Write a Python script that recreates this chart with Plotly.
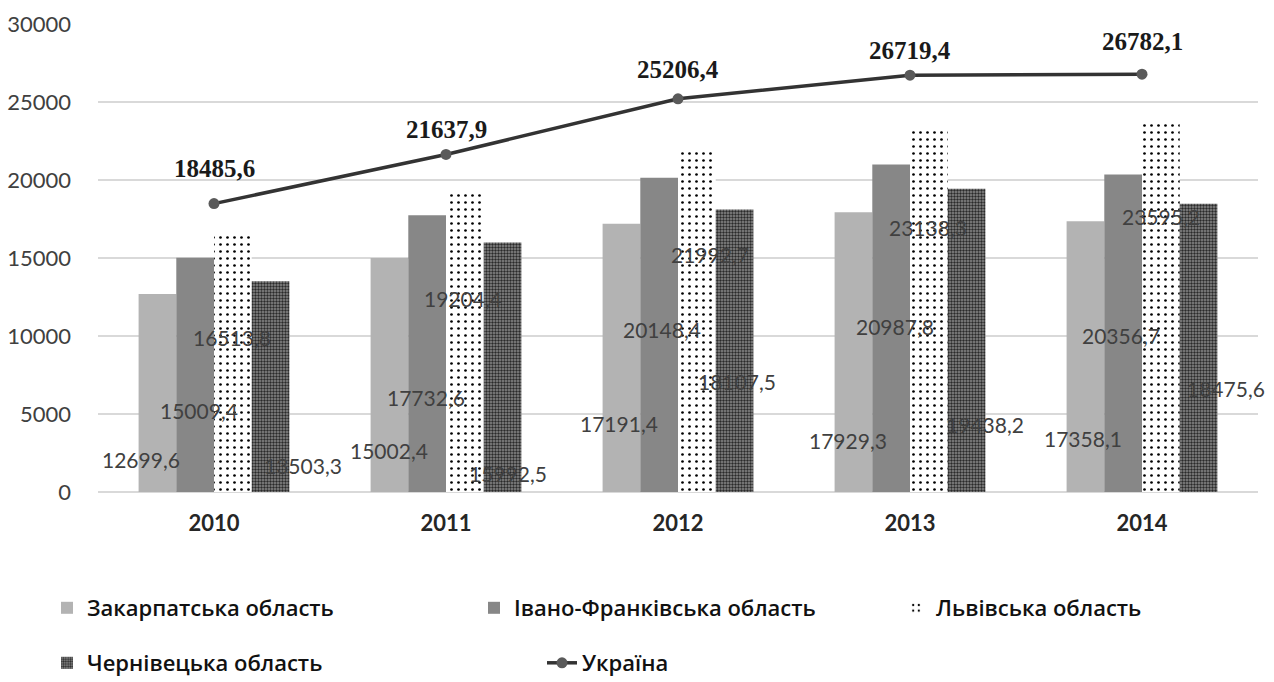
import plotly.graph_objects as go

years = ["2010", "2011", "2012", "2013", "2014"]
zakarpattia = [12699.6, 15002.4, 17191.4, 17929.3, 17358.1]
ivano = [15009.4, 17732.6, 20148.4, 20987.8, 20356.7]
lviv = [16513.8, 19204.4, 21992.7, 23138.3, 23595.2]
chernivtsi = [13503.3, 15992.5, 18107.5, 19438.2, 18475.6]
ukraine = [18485.6, 21637.9, 25206.4, 26719.4, 26782.1]

names = ["Закарпатська область", "Івано-Франківська область", "Львівська область",
         "Чернівецька область", "Україна"]

# label placement (as in the original chart, labels are scattered inside the bars)
label_dx = [[-73, -15, 18, 89], [-57, -20, 17, 62], [-59, -16, 32, 59],
            [-62, -15, 18, 75], [-59, -21, 19, 84]]
label_y = [[2115, 5256, 9936, 1730], [2692, 6090, 12435, 1218], [4360, 10449, 15256, 7115],
           [3333, 10640, 16987, 4359], [3461, 10064, 17692, 6666]]
line_label_shift = [35, 25, 29, 25, 33]

x = list(range(len(years)))
SANS = "Lato, 'Open Sans', sans-serif"
LEGEND_FONT = "'Open Sans', Lato, sans-serif"

def fmt(v):
    return f"{v:.1f}".replace(".", ",")

fig = go.Figure()
fig.add_trace(go.Bar(x=x, y=zakarpattia, name=names[0], marker=dict(color="#b3b3b3", line=dict(width=0)),
                     legend="legend"))
fig.add_trace(go.Bar(x=x, y=ivano, name=names[1], marker=dict(color="#878787", line=dict(width=0)),
                     legend="legend2"))
fig.add_trace(go.Bar(x=x, y=lviv, name=names[2],
                     marker=dict(color="white", line=dict(width=0),
                                 pattern=dict(shape=".", fgcolor="#000000", bgcolor="#ffffff",
                                              size=7, solidity=0.12, fillmode="replace")),
                     legend="legend3"))
fig.add_trace(go.Bar(x=x, y=chernivtsi, name=names[3],
                     marker=dict(color="#777777", line=dict(width=0),
                                 pattern=dict(shape=".", fgcolor="#2a2a2a", bgcolor="#8c8c8c",
                                              size=3, solidity=0.5, fillmode="replace")),
                     legend="legend4"))
fig.add_trace(go.Scatter(x=x, y=ukraine, name=names[4], mode="lines+markers",
                         line=dict(color="#333333", width=3.5),
                         marker=dict(color="#5a5a5a", size=11),
                         legend="legend5"))

series = [zakarpattia, ivano, lviv, chernivtsi]
annotations = []
for i in range(len(years)):
    for s in range(4):
        annotations.append(dict(x=x[i], y=label_y[i][s], xref="x", yref="y", xshift=label_dx[i][s],
                                text=fmt(series[s][i]), showarrow=False,
                                font=dict(family=SANS, size=21, color="#404040")))
    annotations.append(dict(x=x[i], y=ukraine[i], xref="x", yref="y", yshift=line_label_shift[i],
                            text="<b>" + fmt(ukraine[i]) + "</b>", showarrow=False,
                            font=dict(family="'Liberation Serif', 'Times New Roman', serif",
                                      size=25, color="#1a1a1a")))

def leg(xpx, ypx):
    return dict(orientation="h", x=(xpx - 98) / 1160, xanchor="left",
                y=(492 - ypx) / 468, yanchor="middle", traceorder="normal",
                font=dict(family=LEGEND_FONT, size=22, color="#111111", weight=600),
                bgcolor="rgba(0,0,0,0)")

fig.update_layout(
    width=1274, height=682,
    showlegend=True,
    margin=dict(l=98, r=16, t=24, b=190, autoexpand=False),
    paper_bgcolor="white", plot_bgcolor="white",
    barmode="group", bargap=0.35, bargroupgap=0,
    annotations=annotations,
    font=dict(family=SANS, size=22, color="#404040"),
    xaxis=dict(range=[-0.5, 4.5], tickvals=x, ticktext=["<b>" + y + "</b>" for y in years],
               showgrid=False, zeroline=False, showline=False, ticks="", automargin=False,
               tickfont=dict(family=SANS, size=22, color="#262626"), ticklabelstandoff=16),
    yaxis=dict(range=[0, 30000], dtick=5000, tickformat="d", showgrid=True, automargin=False,
               gridcolor="#d9d9d9", gridwidth=1.5, zeroline=True, zerolinecolor="#d9d9d9",
               zerolinewidth=1.5, showline=False, ticks="",
               tickfont=dict(family=SANS, size=22, color="#404040"), ticklabelstandoff=26),
    legend=leg(47, 608),
    legend2=leg(474, 608),
    legend3=leg(896, 608),
    legend4=leg(47, 663),
    legend5=leg(542, 663),
)

fig.write_html("out.html", config={"displayModeBar": False},
               post_script="document.body.style.margin='0px';document.body.style.overflow='hidden';")
